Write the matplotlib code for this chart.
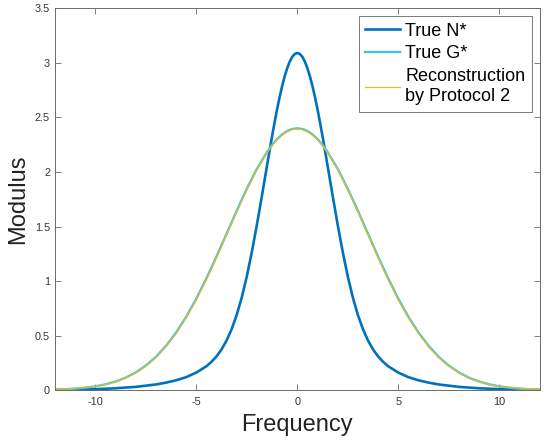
import matplotlib
matplotlib.use("Agg")
import matplotlib.pyplot as plt

# True N* modulus sampled over frequency (denser near the peak)
freq_n = [-12.0, -11.0, -10.0, -9.0, -8.0, -7.0, -6.5, -6.0, -5.5, -5.0, -4.5,
          -4.25, -4.0, -3.75, -3.5, -3.25, -3.0, -2.75, -2.5, -2.25, -2.0,
          -1.75, -1.5, -1.375, -1.25, -1.125, -1.0, -0.875, -0.75, -0.625,
          -0.5, -0.375, -0.25, -0.125, 0.0,
          0.125, 0.25, 0.375, 0.5, 0.625, 0.75, 0.875, 1.0, 1.125, 1.25, 1.375,
          1.5, 1.75, 2.0, 2.25, 2.5, 2.75, 3.0,
          3.25, 3.5, 3.75, 4.0, 4.25, 4.5, 5.0, 5.5, 6.0, 6.5, 7.0, 8.0,
          9.0, 10.0, 11.0, 12.0]
modulus_n = [0.0025, 0.005, 0.010, 0.018, 0.031, 0.053, 0.070, 0.091, 0.120, 0.162, 0.220,
             0.260, 0.310, 0.374, 0.456, 0.560, 0.690, 0.850, 1.043, 1.267, 1.516,
             1.783, 2.057, 2.193, 2.326, 2.454, 2.575, 2.686, 2.788, 2.876,
             2.951, 3.011, 3.055, 3.081, 3.090,
             3.081, 3.055, 3.011, 2.951, 2.876, 2.788, 2.686, 2.575, 2.454, 2.326, 2.193,
             2.057, 1.783, 1.516, 1.267, 1.043, 0.850, 0.690,
             0.560, 0.456, 0.374, 0.310, 0.260, 0.220, 0.162, 0.120, 0.091, 0.070, 0.053, 0.031,
             0.018, 0.010, 0.005, 0.0025]

# True G* modulus and its reconstruction
freq_g = [-12.0, -11.5, -11.0, -10.5, -10.0, -9.5, -9.0, -8.5, -8.0, -7.5, -7.0,
          -6.5, -6.0, -5.5, -5.0, -4.5, -4.0, -3.5, -3.0, -2.5, -2.0, -1.5,
          -1.25, -1.0, -0.75, -0.5, -0.25, 0.0, 0.25, 0.5, 0.75, 1.0, 1.25,
          1.5, 2.0, 2.5, 3.0, 3.5, 4.0, 4.5, 5.0,
          5.5, 6.0, 6.5, 7.0, 7.5, 8.0, 8.5, 9.0, 9.5, 10.0, 10.5, 11.0,
          11.5, 12.0]
modulus_g = [0.0057, 0.0093, 0.0149, 0.0234, 0.0359, 0.0541, 0.0798, 0.115, 0.163, 0.226, 0.306,
             0.407, 0.529, 0.673, 0.839, 1.025, 1.225, 1.434, 1.644, 1.846, 2.029, 2.183,
             2.248, 2.301, 2.344, 2.375, 2.394, 2.400, 2.394, 2.375, 2.344, 2.301, 2.248,
             2.183, 2.029, 1.846, 1.644, 1.434, 1.225, 1.025, 0.839,
             0.673, 0.529, 0.407, 0.306, 0.226, 0.163, 0.115, 0.0798, 0.0541, 0.0359, 0.0234, 0.0149,
             0.0093, 0.0057]
modulus_rec = [0.010, 0.013, 0.018, 0.026, 0.037, 0.0523, 0.0774, 0.112, 0.159, 0.221, 0.300,
               0.400, 0.521, 0.665, 0.830, 1.015, 1.216, 1.425, 1.636, 1.838, 2.022, 2.177,
               2.242, 2.296, 2.339, 2.370, 2.389, 2.395, 2.389, 2.370, 2.339, 2.296, 2.242,
               2.177, 2.022, 1.838, 1.636, 1.425, 1.216, 1.015, 0.830,
               0.665, 0.521, 0.400, 0.300, 0.221, 0.159, 0.112, 0.0774, 0.0523, 0.037, 0.026, 0.018,
               0.013, 0.010]

x_ticks = [-10, -5, 0, 5, 10]
y_ticks = [0, 0.5, 1, 1.5, 2, 2.5, 3, 3.5]
y_tick_labels = ["0", "0.5", "1", "1.5", "2", "2.5", "3", "3.5"]
series_labels = ["True N*", "True G*", "Reconstruction\nby Protocol 2"]

plt.rcParams["font.family"] = ["Liberation Sans", "DejaVu Sans"]

fig = plt.figure(figsize=(5.44, 4.46), dpi=100)
ax = fig.add_axes([0.101, 0.125, 0.891, 0.8565])

ax.plot(freq_n, modulus_n, color="#0072BD", lw=1.9, label=series_labels[0])
ax.plot(freq_g, modulus_g, color="#4DBEEE", lw=1.7, label=series_labels[1])
ax.plot(freq_g, modulus_rec, color="#D4C41A", lw=0.9, label=series_labels[2])

ax.set_xlim(-12, 12)
ax.set_ylim(0, 3.5)
ax.set_xticks(x_ticks)
ax.set_xticklabels([str(t) for t in x_ticks])
ax.set_yticks(y_ticks)
ax.set_yticklabels(y_tick_labels)

axis_grey = "#6a6a6a"
for s in ax.spines.values():
    s.set_color(axis_grey)
    s.set_linewidth(0.7)
ax.tick_params(direction="in", length=4, width=0.6, color=axis_grey,
               labelsize=7.8, labelcolor="#333333", top=True, right=True)
ax.tick_params(axis="x", pad=5)
ax.tick_params(axis="y", pad=3.5)

ax.set_xlabel("Frequency", fontsize=17, color="#222222", labelpad=5)
ax.set_ylabel("Modulus", fontsize=17, color="#222222", labelpad=4)

leg = ax.legend(loc="upper right", fontsize=13, frameon=True, fancybox=False,
                framealpha=1, edgecolor="#7a7a7a", handlelength=1.9,
                handletextpad=0.3, labelspacing=0.3, borderpad=0.35,
                borderaxespad=0.45)
leg.get_frame().set_linewidth(0.7)
for t in leg.get_texts():
    t.set_linespacing(1.3)

fig.savefig("out.png", dpi=100, facecolor="white")
